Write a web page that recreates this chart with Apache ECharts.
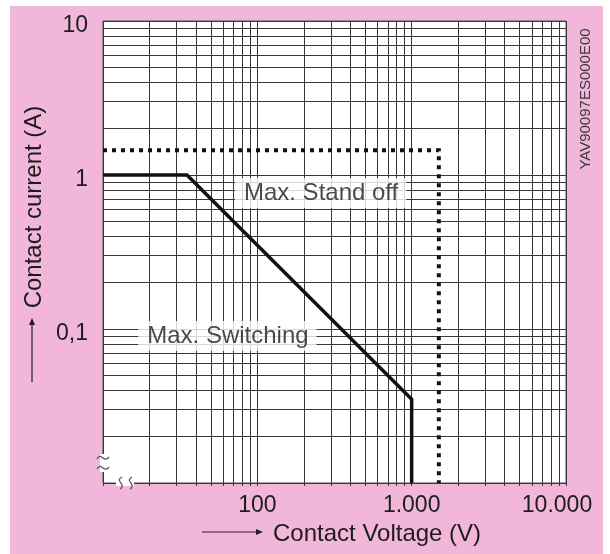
<!DOCTYPE html>
<html>
<head>
<meta charset="utf-8">
<script src="https://cdn.jsdelivr.net/npm/echarts@6/dist/echarts.min.js"></script>
<style>
  html, body { margin: 0; padding: 0; background: #fff; }
  #chart { width: 610px; height: 554px; }
</style>
</head>
<body>
<div id="chart"></div>
<script>
// ---- data ----
const switchingV = [10, 35, 1000, 1000];
const switchingA = [1, 1, 0.035, 0.01];
const standoffV = [10, 1500, 1500];
const standoffA = [1.45, 1.45, 0.01];
const annotationNames = ['Max. Stand off', 'Max. Switching'];
const annotationV = [257, 64];
const annotationA = [0.765, 0.09];
const xTickLabels = { 10: '', 100: '100', 1000: '1.000', 10000: '{last|10.000}' };
const yTickLabels = { '10': '10', '1': '1', '0.1': '0,1', '0.01': '' };
const xName = 'Contact Voltage (V)';
const yName = 'Contact current (A)';
const docCode = 'YAV90097ES000E00';

const FONT = "'Liberation Sans', Arial, sans-serif";
const GRID_COLOR = '#383838';
const TEXT_COLOR = '#1c1c1c';

const chart = echarts.init(document.getElementById('chart'), null, { renderer: 'canvas' });

function xLabel(v) {
  const k = Math.round(v);
  return xTickLabels[k] !== undefined ? xTickLabels[k] : '';
}
function yLabel(v) {
  const k = String(+v.toPrecision(6));
  const t = yTickLabels[k];
  return t ? '{y|' + t + '}' : '';
}

const option = {
  backgroundColor: '#fff',
  animation: false,
  grid: {
    left: 103, top: 21, right: 44, bottom: 71,
    show: true, backgroundColor: '#fff', borderColor: '#555', borderWidth: 1
  },
  xAxis: {
    type: 'log', logBase: 10, min: 10, max: 10000,
    axisLine: { show: false },
    axisTick: { show: true, inside: false, length: 3, lineStyle: { color: GRID_COLOR } },
    minorTick: { show: true, splitNumber: 9, length: 3, lineStyle: { color: GRID_COLOR } },
    splitLine: { show: true, lineStyle: { color: GRID_COLOR, width: 1 } },
    minorSplitLine: { show: true, lineStyle: { color: GRID_COLOR, width: 1 } },
    axisLabel: {
      formatter: xLabel, fontSize: 23, color: TEXT_COLOR, fontFamily: FONT, margin: 11,
      showMinLabel: true, showMaxLabel: true,
      rich: { last: { fontSize: 23, color: TEXT_COLOR, fontFamily: FONT, padding: [0, 18, 0, 0] } }
    }
  },
  yAxis: {
    type: 'log', logBase: 10, min: 0.01, max: 10,
    axisLine: { show: false },
    axisTick: { show: false },
    minorTick: { show: false, splitNumber: 9 },
    splitLine: { show: true, lineStyle: { color: GRID_COLOR, width: 1 } },
    minorSplitLine: { show: true, lineStyle: { color: GRID_COLOR, width: 1 } },
    axisLabel: {
      formatter: yLabel, fontSize: 23, color: TEXT_COLOR, fontFamily: FONT, margin: 15,
      showMinLabel: true, showMaxLabel: true,
      rich: { y: { fontSize: 23, color: TEXT_COLOR, fontFamily: FONT, padding: [10, 0, 0, 0] } }
    }
  },
  series: [
    {
      name: 'Max. Switching', type: 'line', symbol: 'none', z: 5,
      data: switchingV.map((v, i) => [v, switchingA[i]]),
      lineStyle: { color: '#111', width: 3.5, join: 'miter' }
    },
    {
      name: 'Max. Stand off', type: 'line', symbol: 'none', z: 5,
      data: standoffV.map((v, i) => [v, standoffA[i]]),
      lineStyle: { color: '#111', width: 4, type: [4, 5], cap: 'butt', join: 'miter' }
    },
    {
      name: 'labels', type: 'scatter', symbolSize: 0, silent: true, z: 10,
      data: annotationNames.map((n, i) => ({ name: n, value: [annotationV[i], annotationA[i]] })),
      label: {
        show: true, position: 'inside', formatter: '{b}',
        fontSize: 24, color: TEXT_COLOR, fontFamily: FONT,
        backgroundColor: '#fff', padding: [3, 8, 3, 9]
      }
    }
  ],
  graphic: [
    { type: 'rect', z: -100, silent: true, shape: { x: 10, y: 6, width: 593, height: 548 }, style: { fill: '#F1B6DA' } },
    // document code
    { type: 'text', x: 586, y: 99, rotation: Math.PI / 2, silent: true,
      style: { text: docCode, font: '15px ' + FONT, fill: '#3a3a3a', align: 'center', verticalAlign: 'middle' } },
    // x axis name + arrow
    { type: 'text', x: 273, y: 534, silent: true,
      style: { text: xName, font: '24px ' + FONT, fill: TEXT_COLOR, align: 'left', verticalAlign: 'middle' } },
    { type: 'line', silent: true, shape: { x1: 202, y1: 532, x2: 258, y2: 532 }, style: { stroke: '#222', lineWidth: 1.2 } },
    { type: 'polygon', silent: true, shape: { points: [[263, 532], [256, 529], [256, 535]] }, style: { fill: '#222' } },
    // y axis name + arrow
    { type: 'text', x: 34, y: 207, rotation: Math.PI / 2, silent: true,
      style: { text: yName, font: '24px ' + FONT, fill: TEXT_COLOR, align: 'center', verticalAlign: 'middle' } },
    { type: 'line', silent: true, shape: { x1: 32, y1: 382, x2: 32, y2: 323 }, style: { stroke: '#222', lineWidth: 1.2 } },
    { type: 'polygon', silent: true, shape: { points: [[32, 318], [29, 325], [35, 325]] }, style: { fill: '#222' } },
    // axis break marks
    { type: 'rect', silent: true, z: 20, shape: { x: 100, y: 454, width: 6, height: 18 }, style: { fill: '#fff' } },
    { type: 'rect', silent: true, z: 20, shape: { x: 116, y: 480, width: 18, height: 6 }, style: { fill: '#fff' } },
    { type: 'bezierCurve', silent: true, z: 21, shape: { x1: 97, y1: 459, cpx1: 101, cpy1: 451, cpx2: 104, cpy2: 464, x2: 109, y2: 457 }, style: { stroke: '#555', lineWidth: 1.3, fill: null } },
    { type: 'bezierCurve', silent: true, z: 21, shape: { x1: 97, y1: 469, cpx1: 101, cpy1: 461, cpx2: 104, cpy2: 474, x2: 109, y2: 467 }, style: { stroke: '#555', lineWidth: 1.3, fill: null } },
    { type: 'bezierCurve', silent: true, z: 21, shape: { x1: 122, y1: 477, cpx1: 114, cpy1: 481, cpx2: 127, cpy2: 484, x2: 120, y2: 489 }, style: { stroke: '#555', lineWidth: 1.3, fill: null } },
    { type: 'bezierCurve', silent: true, z: 21, shape: { x1: 132, y1: 477, cpx1: 124, cpy1: 481, cpx2: 137, cpy2: 484, x2: 130, y2: 489 }, style: { stroke: '#555', lineWidth: 1.3, fill: null } }
  ]
};
chart.setOption(option);
</script>
</body>
</html>
